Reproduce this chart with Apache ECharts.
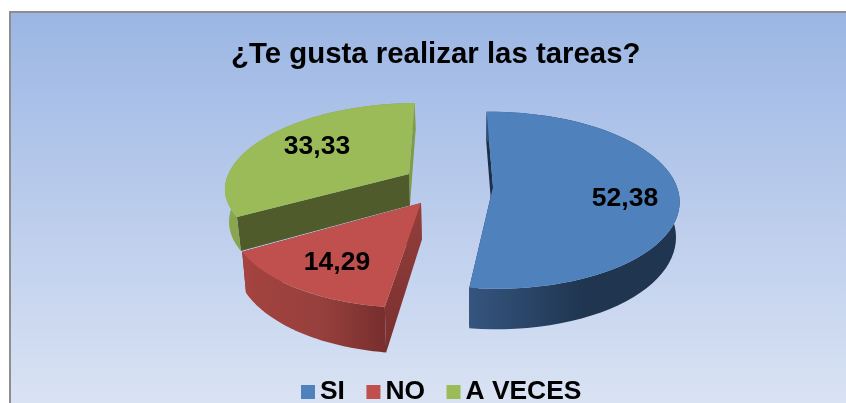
<!DOCTYPE html>
<html><head><meta charset="utf-8">
<style>html,body{margin:0;padding:0;background:#fff}#c{width:846px;height:403px}</style>
<script src="https://cdn.jsdelivr.net/npm/echarts@6/dist/echarts.min.js"></script>
</head><body><div id="c"></div>
<script>
const titleText = '¿Te gusta realizar las tareas?';
const categories = ['SI', 'NO', 'A VECES'];
const values = [52.38, 14.29, 33.33];
const startDeg = -1.2;

const FONT = '"Liberation Sans", Arial, sans-serif';
const colors = ['#4f81bd', '#c0504d', '#9bbb59'];
const shapes = [
  {cx:493, cy:187, rx:184, ry:86.5, ryNear:86.5, k:.15, shear:-.04, depth:34.5, lx:625, ly:199,
   wall:['#35557f','#1f3550','#1f3550'], faces:['#1c3049','#1b2f48']},
  {cx:421, cy:203, rx:185, ry:85, ryNear:85, k:.19, shear:.067, depth:37, lx:337, ly:263,
   wall:['#a5433f','#96403d','#772e2d'], faces:['#933f3c','#7a2f2e']},
  {cx:409, cy:174, rx:180.6, ry:81, ryNear:76.9, k:.14, shear:.127, depth:31.5, lx:317, ly:147,
   wall:['#8aa64f','#7f9c48','#7f9c48'], faces:['#4f5b2b','#7f9c48']}
];
const VX = 465, BOTTOM_SCALE = .983, STEPS = 60;

function project(p, deg, bottom) {
  const t = deg * Math.PI / 180, X = Math.sin(t), Y = -Math.cos(t);
  const s = 1 / (1 - p.k * Y);
  let y = p.cy + Y * (Y > 0 ? p.ryNear : p.ry) * s;
  let x = p.cx + X * p.rx * s - p.shear * (y - p.cy);
  if (bottom) { x = VX + (x - VX) * BOTTOM_SCALE; y += p.depth * s; }
  return [x, y];
}
function pivot(p, bottom) {
  return bottom ? [VX + (p.cx - VX) * BOTTOM_SCALE, p.cy + p.depth] : [p.cx, p.cy];
}
function arc(p, a, b, bottom) {
  const pts = [];
  for (let i = 0; i <= STEPS; i++) pts.push(project(p, a + (b - a) * i / STEPS, bottom));
  return pts;
}
function poly(points, fill) {
  return {type: 'polygon', shape: {points}, style: {fill}, silent: true};
}
function sliceRange(i) {
  const total = values.reduce((a, b) => a + b, 0);
  let a = startDeg;
  for (let j = 0; j < i; j++) a += values[j] / total * 360;
  return [a, a + values[i] / total * 360];
}
function renderSlice(i) {
  return function () {
    const p = shapes[i], [a, b] = sliceRange(i);
    const wallFill = new echarts.graphic.LinearGradient(0, 0, 1, 0, [
      {offset: 0, color: p.wall[0]}, {offset: .55, color: p.wall[1]}, {offset: 1, color: p.wall[2]}]);
    const top = arc(p, a, b, false), bot = arc(p, a, b, true);
    const faceFill = i === 1
      ? new echarts.graphic.LinearGradient(0, 0, 0, 1, [{offset: 0, color: p.faces[0]}, {offset: 1, color: p.faces[1]}])
      : p.faces[0];
    return {type: 'group', children: [
      poly([pivot(p), top[STEPS], bot[STEPS], pivot(p, true)], p.faces[1]),
      poly([pivot(p), top[0], bot[0], pivot(p, true)], faceFill),
      poly(top.concat(bot.slice().reverse()), wallFill),
      poly([pivot(p)].concat(top), colors[i]),
      {type: 'text', silent: true, x: p.lx, y: p.ly, style: {
        text: values[i].toFixed(2).replace('.', ','), font: 'bold 26.5px ' + FONT,
        fill: '#000', align: 'center', verticalAlign: 'middle'}}
    ]};
  };
}

const chart = echarts.init(document.getElementById('c'), null, {renderer: 'canvas'});
chart.setOption({
  animation: false,
  backgroundColor: '#fff',
  title: {text: titleText, left: 226, top: 35, textStyle: {fontFamily: FONT, fontWeight: 'bold', fontSize: 29.4, color: '#000'}},
  legend: {
    left: 296, top: 374, icon: 'rect', itemWidth: 14, itemHeight: 14, itemGap: 21.5,
    data: categories, selectedMode: false,
    textStyle: {fontFamily: FONT, fontWeight: 'bold', fontSize: 26.4, color: '#000'}
  },
  graphic: [{
    type: 'rect', z: -10, silent: true,
    shape: {x: 10, y: 12, width: 860, height: 410},
    style: {
      stroke: '#8e8e8e', lineWidth: 2,
      fill: new echarts.graphic.LinearGradient(0, 0, 0, 1, [
        {offset: 0, color: '#9bb6e4'}, {offset: .5, color: '#bccdec'}, {offset: 1, color: '#dce5f4'}])
    }
  }],
  series: categories.map((name, i) => ({
    type: 'custom', name, coordinateSystem: 'none', z: 2 + i,
    itemStyle: {color: colors[i]},
    data: [values[i]],
    renderItem: renderSlice(i)
  }))
});
</script></body></html>
